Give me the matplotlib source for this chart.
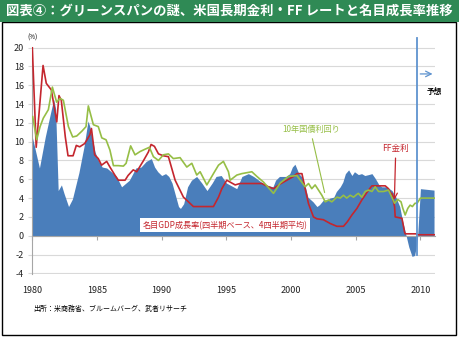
import numpy as np
import matplotlib
matplotlib.use('Agg')
import matplotlib.pyplot as plt
from matplotlib.patches import Rectangle

plt.rcParams['font.family'] = ['Noto Sans CJK JP', 'DejaVu Sans']

# ── Data ───────────────────────────────────────────────────────────────────
gdp_years = [1980.0, 1980.55, 1981.0, 1981.4, 1981.65, 1981.8, 1982.0, 1982.25,
             1982.45, 1982.8, 1983.1, 1983.6, 1984.0, 1984.3, 1984.45, 1984.85,
             1985.1, 1985.4, 1985.75, 1986.1, 1986.5, 1986.9, 1987.5, 1988.0,
             1988.4, 1988.8, 1989.2, 1989.45, 1989.7, 1990.0, 1990.3, 1990.55,
             1990.8, 1991.1, 1991.3, 1991.45, 1991.7, 1992.0, 1992.3, 1992.7,
             1993.1, 1993.5, 1993.9, 1994.2, 1994.6, 1995.0, 1995.4, 1995.8,
             1996.2, 1996.7, 1997.1, 1997.5, 1998.0, 1998.6, 1998.8, 1999.1,
             1999.6, 1999.9, 2000.1, 2000.3, 2000.6, 2000.8, 2001.1, 2001.3,
             2001.7, 2002.0, 2002.2, 2002.5, 2002.8, 2003.0, 2003.3, 2003.5,
             2003.8, 2004.0, 2004.2, 2004.45, 2004.7, 2004.9, 2005.2, 2005.45,
             2005.7, 2006.0, 2006.25, 2006.5, 2006.8, 2007.0, 2007.3, 2007.6,
             2007.8, 2008.1, 2008.4, 2008.6, 2008.85, 2009.1, 2009.35, 2009.55,
             2009.7, 2009.77, 2010.0, 2011.05]
gdp_growth = [10.5, 7.2, 10.5, 13.0, 14.5, 13.5, 4.8, 5.4,
              4.5, 3.1, 3.9, 6.7, 9.5, 12.2, 11.6, 8.9,
              8.0, 7.3, 7.2, 6.8, 6.3, 5.2, 5.9, 7.2,
              7.3, 7.9, 8.2, 7.3, 6.8, 6.4, 6.6, 6.3,
              5.6, 4.1, 3.1, 2.9, 3.4, 5.2, 5.9, 6.3,
              5.6, 4.8, 5.6, 6.3, 6.4, 5.6, 5.3, 5.0,
              6.3, 6.6, 6.3, 5.9, 5.4, 5.2, 5.9, 6.3,
              6.3, 6.6, 7.3, 7.6, 6.6, 6.3, 5.2, 4.1,
              3.6, 3.1, 3.3, 3.8, 3.8, 4.0, 4.1, 4.7,
              5.2, 5.7, 6.6, 7.0, 6.4, 6.8, 6.5, 6.6,
              6.4, 6.5, 6.6, 6.1, 5.4, 5.2, 5.2, 5.0,
              4.8, 4.1, 3.1, 1.7, 0.25, -1.2, -2.2, -2.1,
              -1.0, -0.3, 5.0, 4.85]

ff_years = [1980.0, 1980.3, 1980.83, 1981.08, 1981.47, 1981.89, 1982.06, 1982.24,
            1982.55, 1982.76, 1983.15, 1983.4, 1983.66, 1984.05, 1984.44, 1984.57,
            1984.82, 1985.1, 1985.35, 1985.75, 1986.0, 1986.4, 1986.65, 1987.17,
            1987.4, 1987.8, 1988.07, 1988.6, 1988.97, 1989.18, 1989.44, 1989.75,
            1990.13, 1990.52, 1991.04, 1991.68, 1992.07, 1992.45, 1994.0, 1994.39,
            1994.65, 1995.03, 1995.29, 1995.68, 1996.06, 1997.74, 1998.25, 1998.64,
            1999.16, 1999.8, 2000.19, 2000.45, 2000.84, 2001.09, 2001.35, 2001.73,
            2001.99, 2002.5, 2003.02, 2003.54, 2004.05, 2004.36, 2004.7, 2005.09,
            2005.47, 2005.99, 2006.25, 2007.28, 2007.53, 2007.84, 2008.0, 2008.05,
            2008.57, 2008.77, 2008.82, 2009.67, 2009.8, 2011.1]
ff_rate = [20.0, 9.4, 18.1, 16.2, 15.5, 12.1, 14.9, 14.4,
           10.5, 8.5, 8.5, 9.6, 9.45, 9.8, 10.7, 11.4,
           8.6, 8.2, 7.5, 7.9, 7.3, 6.4, 5.9, 5.9,
           6.4, 7.0, 6.8, 8.0, 8.9, 9.7, 9.5, 8.7,
           8.5, 8.4, 5.9, 4.1, 3.6, 3.1, 3.1, 4.1,
           5.0, 5.9, 5.7, 5.4, 5.55, 5.55, 5.2, 5.0,
           5.5, 6.0, 6.3, 6.6, 6.6, 5.0, 3.4, 2.0,
           1.8, 1.7, 1.3, 1.0, 1.0, 1.5, 2.2, 2.9,
           3.8, 4.85, 5.3, 5.3, 5.0, 4.1, 3.1, 2.0,
           1.85, 0.4, 0.2, 0.2, 0.1, 0.1]

ust_years = [1980.03, 1980.34, 1980.6, 1980.85, 1981.24, 1981.55, 1981.88, 1982.14,
             1982.4, 1982.79, 1983.12, 1983.43, 1983.82, 1984.15, 1984.33, 1984.72,
             1985.1, 1985.37, 1985.7, 1986.0, 1986.27, 1986.65, 1987.04, 1987.25,
             1987.6, 1987.94, 1988.33, 1988.72, 1989.05, 1989.36, 1989.75, 1990.13,
             1990.52, 1990.9, 1991.42, 1991.94, 1992.33, 1992.71, 1992.97, 1993.49,
             1994.0, 1994.39, 1994.77, 1995.16, 1995.29, 1995.81, 1996.19, 1996.97,
             1997.36, 1997.87, 1998.64, 1999.16, 1999.8, 2000.45, 2001.09, 2001.35,
             2001.6, 2001.86, 2002.12, 2002.38, 2002.64, 2002.9, 2003.15, 2003.54,
             2003.8, 2004.05, 2004.3, 2004.57, 2004.83, 2005.09, 2005.2, 2005.47,
             2005.73, 2005.99, 2006.25, 2006.5, 2006.76, 2007.15, 2007.53, 2007.79,
             2008.0, 2008.25, 2008.5, 2008.64, 2008.82, 2009.02, 2009.2, 2009.38,
             2009.58, 2009.74, 2010.0, 2011.1]
ust_yield = [12.66, 10.2, 11.6, 12.5, 13.4, 15.8, 14.2, 14.6,
             14.4, 11.6, 10.5, 10.6, 11.1, 11.6, 13.8, 11.8,
             11.6, 10.4, 10.2, 9.1, 7.45, 7.45, 7.4, 7.7,
             9.55, 8.6, 8.95, 9.2, 9.4, 8.4, 8.0, 8.6,
             8.7, 8.2, 8.3, 7.3, 7.7, 6.45, 6.8, 5.4,
             6.6, 7.5, 7.9, 6.8, 5.9, 6.45, 6.6, 6.8,
             6.3, 5.7, 4.5, 5.6, 6.3, 6.4, 5.2, 5.55,
             5.0, 5.4, 4.85, 4.3, 3.6, 3.8, 3.6, 4.1,
             4.0, 4.3, 4.0, 4.3, 4.1, 4.4, 4.5, 4.1,
             4.7, 4.85, 4.7, 5.2, 4.7, 4.7, 4.85, 4.1,
             3.45, 3.85, 3.6, 2.9, 2.2, 2.9, 3.25, 3.1,
             3.45, 3.45, 4.0, 4.0]

year_ticks = [1980, 1985, 1990, 1995, 2000, 2005, 2010]
pct_ticks = list(range(-4, 21, 2))

TITLE = '図表④：グリーンスパンの謎、米国長期金利・FF レートと名目成長率推移'
SOURCE = '出所：米商務省、ブルームバーグ、武者リサーチ'
GDP_LABEL = '名目GDP成長率(四半期ベース、4四半期平均)'
UST_LABEL = '10年国債利回り'
FF_LABEL = 'FF金利'
FORECAST = 2009.77

# ── Colours ────────────────────────────────────────────────────────────────
C_TITLE = '#2F8A55'
C_BLUE = '#4A7EBB'
C_RED = '#C4262E'
C_GREEN = '#96BE46'
C_VLINE = '#5F93CF'
C_GRID = '#D9D9D9'

fig = plt.figure(figsize=(4.59, 3.38), dpi=100)

# panel frame + title bar (behind the axes)
fig.patches.append(Rectangle((0.004, 0.008), 0.99, 0.926, transform=fig.transFigure,
                             facecolor='white', edgecolor='black', lw=1.0,
                             zorder=-10))
fig.patches.append(Rectangle((0.0, 0.934), 1.0, 0.066, transform=fig.transFigure,
                             facecolor=C_TITLE, edgecolor='none', zorder=-10))
fig.text(0.012, 0.967, TITLE, color='white', fontsize=9.6, fontweight='bold',
         va='center', ha='left')

ax = fig.add_axes([0.0704, 0.1905, 0.8766, 0.6695])
ax.set_facecolor('none')
ax.set_xlim(1980, 2011.1)
ax.set_ylim(-4.03, 20.03)

ax.fill_between(gdp_years, gdp_growth, 0, color=C_BLUE, lw=0, zorder=2)
ax.plot(ff_years, ff_rate, color=C_RED, lw=1.2, zorder=3)
ax.plot(ust_years, ust_yield, color=C_GREEN, lw=1.2, zorder=4)

# grid / axes
ax.set_yticks(pct_ticks)
ax.set_yticklabels([str(v) for v in pct_ticks])
ax.grid(axis='y', color=C_GRID, lw=0.8, zorder=0)
ax.set_axisbelow(True)
ax.tick_params(axis='y', length=3, color=C_GRID, pad=3, labelsize=6.5,
               labelcolor='#222222')
for s in ['top', 'right']:
    ax.spines[s].set_visible(False)
ax.spines['left'].set_color('#A6A6A6')
ax.spines['left'].set_linewidth(0.8)
ax.spines['bottom'].set_position(('data', 0))
ax.spines['bottom'].set_color('#A6A6A6')
ax.spines['bottom'].set_linewidth(0.8)
ax.spines['bottom'].set_zorder(5)
ax.set_xticks(year_ticks)
ax.tick_params(axis='x', length=3, color='#A6A6A6', labelbottom=False)

sec = ax.secondary_xaxis(0.0)
sec.set_xticks(year_ticks)
sec.set_xticklabels([str(y) for y in year_ticks])
sec.tick_params(length=0, pad=9, labelsize=6.5, labelcolor='#222222')
sec.spines['bottom'].set_visible(False)

ax.text(1980.0, 20.6, '(%)', fontsize=4.5, ha='center', va='bottom')

# forecast marker
ax.plot([FORECAST, FORECAST], [-2.1, 21.0], color=C_VLINE, lw=1.3,
        clip_on=False, zorder=6)
ax.annotate('', xy=(2011.15, 17.2), xytext=(FORECAST, 17.2),
            arrowprops=dict(arrowstyle='->', color=C_VLINE, lw=0.9),
            annotation_clip=False)
ax.text(2011.1, 15.3, '予想', fontsize=5.5, fontweight='bold', ha='center',
        va='center', clip_on=False)

# series labels
ax.text(1994.9, 1.1, GDP_LABEL, fontsize=5.9, color=C_RED, ha='center',
        va='center', zorder=7,
        bbox=dict(boxstyle='square,pad=0.3', facecolor='white', edgecolor='none'))
ax.text(2001.53, 11.3, UST_LABEL, fontsize=5.9, color=C_GREEN, ha='center',
        va='center', zorder=7)
ax.annotate('', xy=(2002.64, 4.3), xytext=(2001.6, 10.6),
            arrowprops=dict(arrowstyle='-', color=C_GREEN, lw=0.8), zorder=7)
ax.text(2008.1, 9.3, FF_LABEL, fontsize=6.2, color=C_RED, ha='center',
        va='center', zorder=7)
ax.annotate('', xy=(2007.98, 3.5), xytext=(2008.08, 8.55),
            arrowprops=dict(arrowstyle='->', color=C_RED, lw=0.9), zorder=7)

fig.text(0.072, 0.085, SOURCE, fontsize=5, ha='left', va='center')

fig.savefig('out.png', dpi=100)
